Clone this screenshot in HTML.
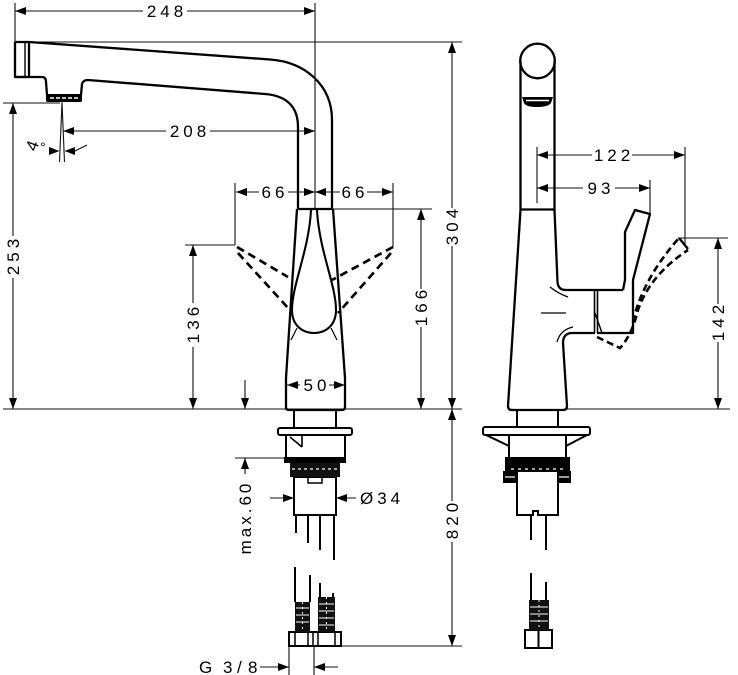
<!DOCTYPE html>
<html><head><meta charset="utf-8">
<style>
html,body{margin:0;padding:0;background:#fff;}
svg{display:block;}
text{font-family:"Liberation Sans",sans-serif;font-size:17px;fill:#000;letter-spacing:4px;}
</style></head><body>
<svg width="738" height="675" viewBox="0 0 738 675" xmlns="http://www.w3.org/2000/svg">
<rect width="738" height="675" fill="#fff"/>

<!-- dimension lines -->
<g fill="none" stroke="#111" stroke-width="1.1">
<path d="M15,3V42 M315,3V210 M15,11H143 M187,11H315 M25,42H462 M452,42V208 M452,246V409
M3,103H60 M13,103V236 M13,278V409
M62,102L59.5,162 M62,102L64.5,162 M75,151L87,145
M63,131H166 M210,131H315
M236,192H259 M288,192H340 M367,192H393
M235,183V245 M185,245H235 M393,183V247
M193,245V303 M193,347V409
M333,209H432 M421,209V289 M421,327V409
M245,380V409
M287,385H300 M329,385H345
M3,409H462
M452,409V501 M452,542V646 M340,646H462
M235,458H284 M245,458V474
M270,498H294 M336,498H356
M260,667H289 M314,667H338 M289,646V675 M314,646V675
M537,155H592 M632,155H685 M537,147V203 M685,147V245
M537,188H583 M615,188H650 M650,180V213
M678,238H728 M718,238V304 M718,342V409
M567,409H730"/>
</g>

<!-- arrowheads -->
<g fill="#000">
<polygon points="15,11 26,7 26,15"/>
<polygon points="315,11 304,7 304,15"/>
<polygon points="452,42 448,53 456,53"/>
<polygon points="452,409 448,398 456,398"/>
<polygon points="452,409 448,420 456,420"/>
<polygon points="452,646 448,635 456,635"/>
<polygon points="13,103 9,114 17,114"/>
<polygon points="13,409 9,398 17,398"/>
<polygon points="63,131 74,127 74,135"/>
<polygon points="315,131 304,127 304,135"/>
<polygon points="59.5,151 49,147 49,155"/>
<polygon points="64.5,151 75,147 75,155"/>
<polygon points="236,192 247,188 247,196"/>
<polygon points="315,192 304,188 304,196"/>
<polygon points="315,192 326,188 326,196"/>
<polygon points="393,192 382,188 382,196"/>
<polygon points="193,245 189,256 197,256"/>
<polygon points="193,409 189,398 197,398"/>
<polygon points="421,209 417,220 425,220"/>
<polygon points="421,409 417,398 425,398"/>
<polygon points="245,409 241,398 249,398"/>
<polygon points="287,385 298,381 298,389"/>
<polygon points="345,385 334,381 334,389"/>
<polygon points="245,458 241,469 249,469"/>
<polygon points="294,498 283,494 283,502"/>
<polygon points="336,498 347,494 347,502"/>
<polygon points="289,667 278,663 278,671"/>
<polygon points="314,667 325,663 325,671"/>
<polygon points="537,155 548,151 548,159"/>
<polygon points="685,155 674,151 674,159"/>
<polygon points="537,188 548,184 548,192"/>
<polygon points="650,188 639,184 639,192"/>
<polygon points="718,238 714,249 722,249"/>
<polygon points="718,409 714,398 722,398"/>
</g>

<!-- LEFT faucet outline -->
<g fill="none" stroke="#000" stroke-width="2.3" stroke-linejoin="round">
<path d="M15,42 H29 L270,59.5 C305,62 332,85 332,120 V209"/>
<path d="M15,42 V77 H29 V42"/>
<path d="M15,77 H42 Q46,77 46,82 L47,95"/>
<path d="M81,95 L82,84 Q83,80 88,80 L265,94 C290,96 298,110 298,127 V209"/>
<path d="M297,209 H333"/>
<path d="M297,209 L286,378 V407 Q286,410 289,410 H342 Q345,410 345,407 V378 L333,209"/>
<path stroke-width="2.1" d="M311,210 C309,250 292,285 292,310 C292,325 302,333 314,333 C326,333 336,325 336,310 C336,285 319,250 317,210"/>
</g>
<path d="M25,43V76" stroke="#000" stroke-width="1.4"/>
<rect x="46" y="94" width="36" height="8" rx="1.5" fill="#000"/>
<path d="M50,98H78" stroke="#fff" stroke-width="1.5" stroke-dasharray="4 2"/>
<path d="M297,328 L291,340 M331,328 L337,340" stroke="#000" stroke-width="1.2" fill="none"/>

<!-- dashed levers (front) -->
<g fill="none" stroke="#000" stroke-width="2.7" stroke-dasharray="8 5">
<path d="M237,247 L288,277"/>
<path d="M238,253 L289,309"/>
<path d="M393,247 L332,280"/>
<path d="M391,253 L338,313"/>
</g>

<!-- left stem -->
<g fill="none" stroke="#000" stroke-width="2">
<path d="M294,410 V428 M336,410 V428"/>
<rect x="278" y="428" width="74" height="7" rx="2"/>
<path d="M286,435 V457 M345,435 V457"/>
<path d="M290,437 L302,447 M302,435 V447" stroke-width="1.6"/>
<rect x="294" y="477" width="42" height="38"/>
<rect x="308" y="477" width="14" height="6" stroke-width="1.5"/>
<path d="M296,515V533 M308,515V543 M320,515V550 M334,515V560"/>
<path d="M295,567V602 M310,575V602 M320,583V597 M333,593V597"/>
<rect x="289" y="632" width="52" height="14"/>
<path d="M295,632V646 M308,632V646 M313,632V646 M318,632V646 M335,632V646" stroke-width="1.5"/>
</g>
<rect x="284" y="457" width="62" height="6" fill="#000"/>
<rect x="290" y="463" width="50" height="14" fill="#111"/>
<path d="M292,469H338" stroke="#fff" stroke-width="1.2" stroke-dasharray="3 3"/>
<rect x="295" y="602" width="15" height="30" fill="#111"/>
<rect x="318" y="597" width="17" height="35" fill="#111"/>
<path d="M296,608H309 M296,615H309 M296,622H309 M319,604H334 M319,611H334 M319,618H334 M319,625H334" stroke="#fff" stroke-width="1"/>
<path d="M302.5,602V632 M326.5,597V632" stroke="#fff" stroke-width="1" stroke-dasharray="2 3"/>

<!-- RIGHT faucet -->
<g fill="none" stroke="#000" stroke-width="2.3" stroke-linejoin="round">
<circle cx="537.5" cy="61" r="17.3"/>
<path d="M520.5,61 V210 M554.5,61 V210"/>
<path d="M520,209.5 H555"/>
<path d="M520.5,210 L508,406 Q508,410 512,410 H563 Q567,410 567,406 L563,343 Q563,334 571,333 H595"/>
<path d="M554.5,210 L557.5,282 Q558,290 566,290 H623"/>
<path d="M623,290 L625,280 V232 L635,210 L650,214 L633,280 V333 H597"/>
<path d="M594.5,290 V333 M597.5,290 V333" stroke-width="1.6"/>
<path d="M595,313 L602,333" stroke-width="1.4"/>
</g>
<path d="M522,97 H553 L551,103 Q548,107 537,107 Q526,107 524,103 Z" fill="#000"/>
<path d="M526,100.5 H549" stroke="#fff" stroke-width="1.5"/>
<g fill="none" stroke="#000" stroke-width="1.3">
<path d="M550,287 Q559,294 568,297"/>
<path d="M541,313 H566"/>
<path d="M557,342 Q560,330 573,327"/>
</g>
<g fill="none" stroke="#000" stroke-width="2.6" stroke-dasharray="7 4">
<path d="M597,337 L620,348 Q632,335 638,310 Q650,275 688,250"/>
<path d="M633,322 Q642,280 679,238"/>
</g>
<path d="M679,238 L688,249" stroke="#000" stroke-width="2.4"/>

<!-- right stem -->
<g fill="none" stroke="#000" stroke-width="2">
<path d="M517,410 V427 M558,410 V427"/>
<rect x="483" y="427" width="107" height="8" rx="2"/>
<path d="M486,435 L509,446 M587,435 L566,446"/>
<path d="M509,435 V457 M566,435 V457"/>
<path d="M517,472 V515 H533 V511 H538 V515 H558 V472"/>
<path d="M531,515V540 M546,515V550 M531,573V600 M546,582V600"/>
<rect x="525" y="630" width="27" height="18"/>
<path d="M538.5,630V648"/>
</g>
<rect x="505" y="457" width="65" height="15" fill="#000"/>
<path d="M511,469H564" stroke="#fff" stroke-width="1.2" stroke-dasharray="3 4"/>
<rect x="503" y="471" width="14" height="12" fill="#000"/>
<rect x="557" y="471" width="14" height="12" fill="#000"/>
<path d="M505,477H515 M559,477H569" stroke="#fff" stroke-width="1.2"/>
<rect x="529" y="600" width="20" height="30" fill="#111"/>
<path d="M530,607H548 M530,614H548 M530,621H548" stroke="#fff" stroke-width="1"/>
<path d="M539,600V630" stroke="#fff" stroke-width="1" stroke-dasharray="2 3"/>

<!-- labels -->
<g text-anchor="middle">
<text x="167" y="17">248</text>
<text x="190" y="137">208</text>
<text x="275" y="198">66</text>
<text x="355" y="198">66</text>
<text x="317" y="391">50</text>
<text x="614" y="161">122</text>
<text x="601" y="194">93</text>
<text transform="translate(13,257) rotate(-90)" x="2" y="6">253</text>
<text transform="translate(193,325) rotate(-90)" x="2" y="6">136</text>
<text transform="translate(421,308) rotate(-90)" x="2" y="6">166</text>
<text transform="translate(452,227) rotate(-90)" x="2" y="6">304</text>
<text transform="translate(452,521) rotate(-90)" x="2" y="6">820</text>
<text transform="translate(718,323) rotate(-90)" x="2" y="6">142</text>
<text transform="translate(245,519) rotate(-90)" x="1.5" y="6" style="letter-spacing:3px">max.60</text>
</g>
<text x="360" y="504">Ø34</text>
<text x="199" y="673" style="letter-spacing:0">G</text>
<text x="223" y="673" style="letter-spacing:0">3</text>
<text x="237" y="673" style="letter-spacing:0">/</text>
<text x="248" y="673" style="letter-spacing:0">8</text>
<text transform="translate(33,146) rotate(-70)" text-anchor="middle" y="5" style="letter-spacing:0">4</text>
<text x="40" y="152" style="letter-spacing:0;font-size:14px">°</text>
</svg>
</body></html>
